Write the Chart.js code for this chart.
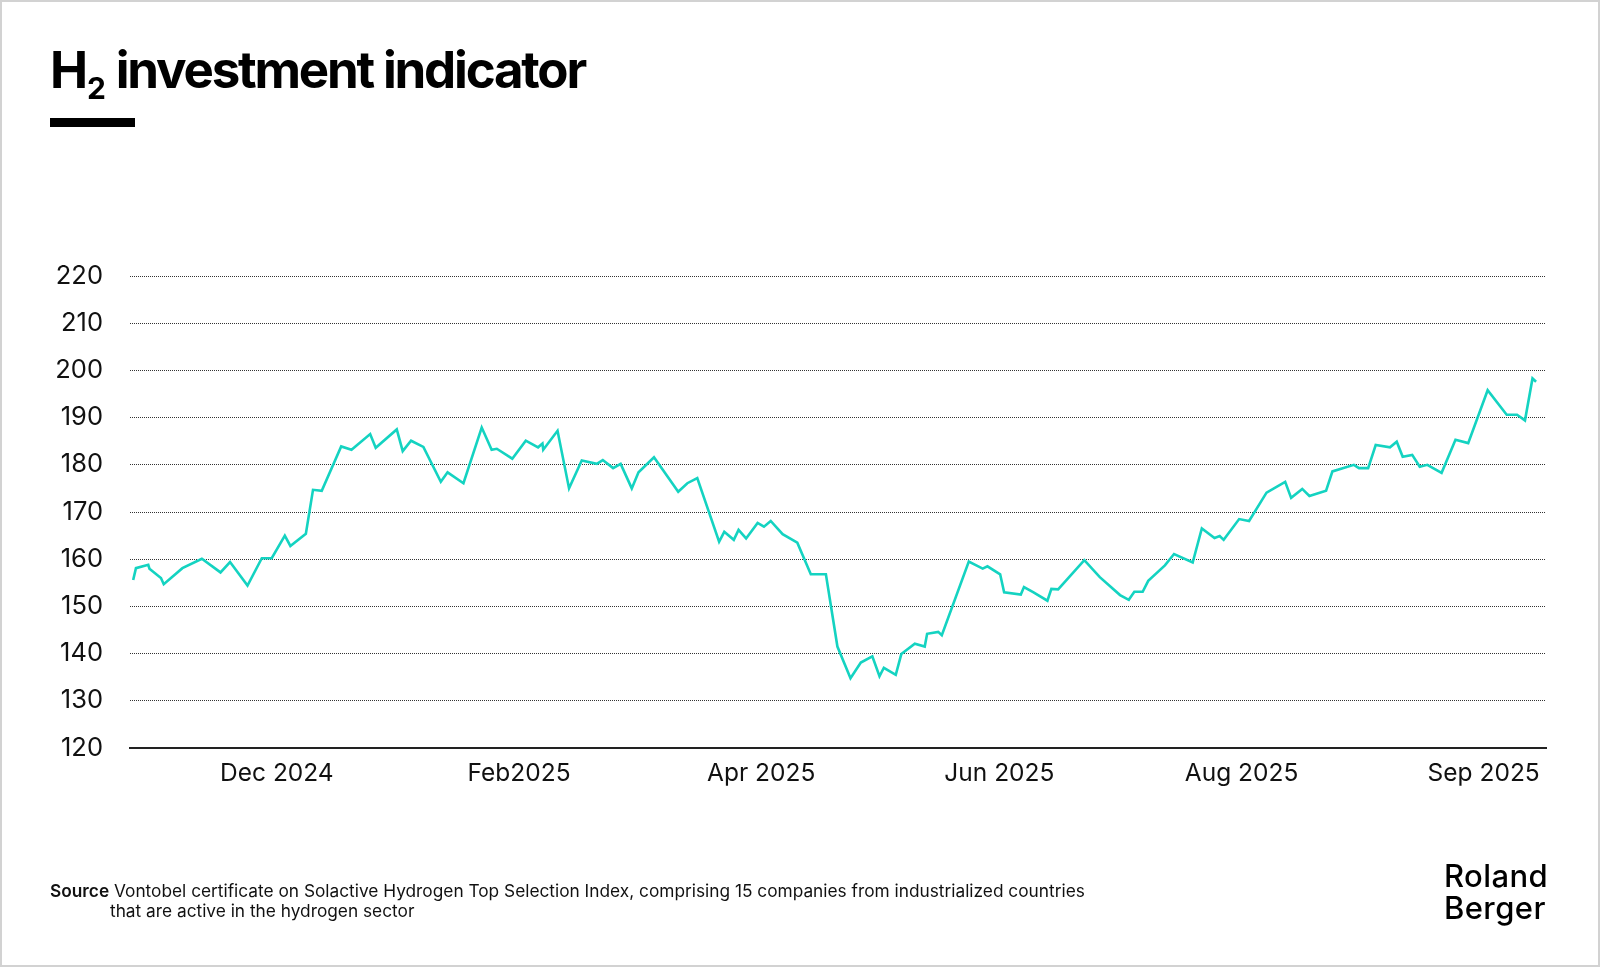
<!DOCTYPE html>
<html>
<head>
<meta charset="utf-8">
<script src="https://cdn.jsdelivr.net/npm/chart.js@4.4.1/dist/chart.umd.min.js"></script>
<style>
  html, body { margin: 0; padding: 0; background: #fff; }
  body { width: 1600px; height: 967px; position: relative; overflow: hidden; font-family: Inter, "Noto Sans", sans-serif; }
  #frame { position: absolute; left: 0; top: 0; width: 1596px; height: 963px; border: 2px solid #d2d2d2; pointer-events: none; z-index: 5; }
  #chartWrap { position: absolute; left: 0; top: 0; width: 1600px; height: 967px; }
  #title { position: absolute; left: 50px; top: 35px; font-size: 51px; font-weight: 700; color: #000; letter-spacing: -2.2px; white-space: nowrap; line-height: 70px; }
  #title sub { font-size: 30px; vertical-align: baseline; position: relative; top: 11px; margin-left: 1px; letter-spacing: 0; }
  #bar { position: absolute; left: 50px; top: 118px; width: 85px; height: 9px; background: #000; }
  #source { position: absolute; left: 50px; top: 881px; font-size: 17.3px; color: #111; line-height: 19.5px; white-space: nowrap; }
  #source b { font-weight: 600; }
  #source .l2 { padding-left: 60px; }
  #logo { position: absolute; left: 1444px; top: 860px; font-size: 31px; font-weight: 500; line-height: 32px; color: #000; letter-spacing: 0.4px; }
</style>
</head>
<body>
<div id="chartWrap"><canvas id="c"></canvas></div>
<div id="title">H<sub>2</sub> investment indicator</div>
<div id="bar"></div>
<div id="source"><b>Source</b> Vontobel certificate on Solactive Hydrogen Top Selection Index, comprising 15 companies from industrialized countries<br><span class="l2">that are active in the hydrogen sector</span></div>
<div id="logo">Roland<br>Berger</div>
<div id="frame"></div>
<script>
// Days since 2024-10-25
const days = [0.8,1.5,4.6,4.9,7.8,8.5,13.2,18.1,22.8,25.2,29.6,33.2,35.7,39.0,40.4,44.3,46.1,48.3,53.2,55.8,
  60.5,61.9,67.2,68.7,70.8,73.9,78.3,80.0,84.0,88.6,91.1,92.4,96.3,99.7,102.8,103.9,104.1,107.7,110.6,113.8,
  117.6,119.1,121.7,123.6,126.4,128.1,132.0,138.1,140.4,142.9,148.4,149.7,152.1,153.3,155.2,158.1,159.7,161.4,164.4,168.1,
  171.5,175.3,178.2,181.5,184.1,187.0,188.8,189.9,192.9,194.3,197.7,200.2,200.8,203.6,204.5,211.3,214.8,216.0,219.2,220.2,
  224.4,225.2,227.5,231.1,232.1,233.8,240.4,244.3,249.4,251.6,253.0,255.1,256.5,260.7,263.0,267.7,270.0,273.2,274.5,275.5,
  279.4,281.9,286.3,291.0,292.5,295.3,297.1,301.3,302.9,308.3,309.6,311.9,313.8,317.4,319.1,320.6,323.0,324.9,326.8,330.4,
  333.9,337.1,342.0,346.8,349.4,351.4,353.3,354.2];
const indexValues = [155.6,158.1,158.8,158.0,156.0,154.7,158.1,160.1,157.2,159.4,154.4,160.2,160.2,165.0,162.8,165.4,174.7,174.5,183.9,183.2,
  186.5,183.6,187.5,182.9,185.1,183.8,176.4,178.4,176.1,187.9,183.2,183.4,181.3,185.1,183.7,184.5,183.2,187.2,175.0,180.9,
  180.2,181.0,179.3,180.2,175.0,178.4,181.6,174.3,176.1,177.2,163.7,165.8,164.1,166.2,164.4,167.7,166.9,168.1,165.3,163.5,
  156.8,156.8,141.5,134.8,138.1,139.4,135.2,137.0,135.5,139.9,142.1,141.5,144.2,144.6,143.9,159.5,158.0,158.5,156.8,153.0,
  152.5,154.1,153.0,151.2,153.7,153.6,159.8,156.2,152.4,151.4,153.1,153.1,155.4,158.7,161.1,159.3,166.5,164.5,164.9,164.1,
  168.5,168.1,174.1,176.4,173.0,174.9,173.4,174.5,178.6,180.0,179.3,179.3,184.2,183.7,184.9,181.7,182.1,179.6,180.0,178.3,
  185.3,184.6,195.8,190.6,190.6,189.4,198.3,197.6];
const tickDays = [37, 98, 159, 219, 280, 341];
const tickLabels = ["Dec 2024", "Feb2025", "Apr 2025", "Jun 2025", "Aug 2025", "Sep 2025"];
const yMin = 120, yMax = 220, yStep = 10;
const xMin = 0, xMax = 356.7;

const points = days.map((d, i) => ({ x: d, y: indexValues[i] }));

new Chart(document.getElementById('c'), {
  type: 'line',
  data: { datasets: [{ data: points, borderColor: '#14D3C1', borderWidth: 2.6, pointRadius: 0, tension: 0, fill: false }] },
  options: {
    responsive: true, maintainAspectRatio: false, animation: false,
    layout: { padding: { top: 276, right: 54, bottom: 169, left: 0 } },
    plugins: { legend: { display: false }, tooltip: { enabled: false } },
    scales: {
      x: {
        type: 'linear', min: xMin, max: xMax,
        afterBuildTicks: (ax) => { ax.ticks = tickDays.map(v => ({ value: v })); },
        afterFit: (ax) => { ax.height = 50; },
        ticks: { autoSkip: false, maxRotation: 0, padding: 11, color: '#111',
          font: { family: 'Inter', size: 24.5 },
          callback: (v, i) => tickLabels[i] },
        grid: { display: false, drawTicks: false },
        border: { display: true, color: '#222', width: 2 }
      },
      y: {
        min: yMin, max: yMax,
        afterFit: (ax) => { ax.width = 130; },
        ticks: { stepSize: yStep, padding: 27, color: '#111', font: { family: 'Inter', size: 25.5 } },
        grid: { drawTicks: false, lineWidth: 1,
          color: (ctx) => (ctx.tick && ctx.tick.value === yMin) ? 'rgba(0,0,0,0)' : '#333' },
        border: { display: false, dash: [1, 1] }
      }
    }
  }
});
</script>
</body>
</html>
